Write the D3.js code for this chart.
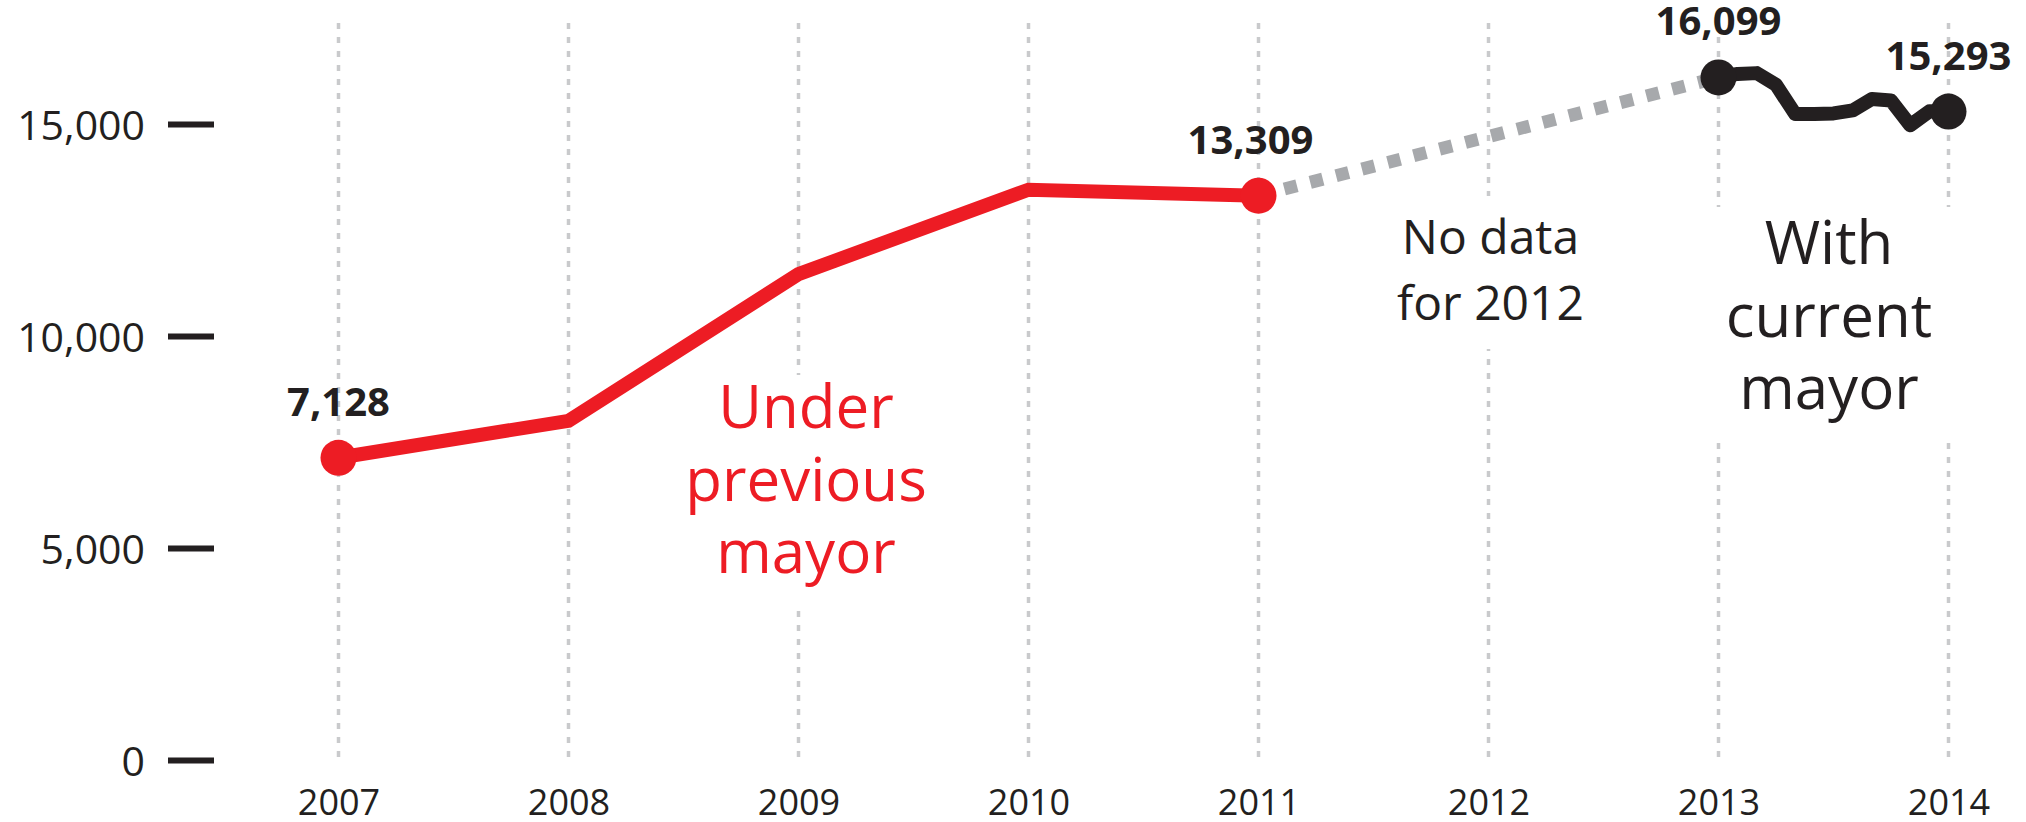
<!DOCTYPE html>
<html><head><meta charset="utf-8">
<script src="https://cdn.jsdelivr.net/npm/d3@7"></script>
<style>
body{margin:0;background:#fff}
svg{display:block}
text{font-family:"Open Sans",sans-serif}
</style>
</head><body>
<svg id="c" width="2026" height="822"></svg>
<script>
// ---- data ----
const years = [2007, 2008, 2009, 2010, 2011, 2012, 2013, 2014];
const yTicks = [0, 5000, 10000, 15000];

const prevYears = [2007, 2008, 2009, 2010, 2011];
const prevValues = [7128, 8000, 11460, 13450, 13309];

const gapYears = [2011, 2013];
const gapValues = [13309, 16099];

// monthly readings from Jan 2013 to Jan 2014
const curMonths = [0, 1, 2, 3, 4, 5, 6, 7, 8, 9, 10, 11, 12];
const curValues = [16099, 16180, 16200, 15925, 15235, 15235, 15250, 15320, 15590, 15555, 14970, 15300, 15293];

const labelYears = [2007, 2011, 2013, 2014];
const labelValues = [7128, 13309, 16099, 15293];

const notePrev = ["Under", "previous", "mayor"];
const noteGap = ["No data", "for 2012"];
const noteCur = ["With", "current", "mayor"];

// ---- setup ----
const RED = "#ed1c24", INK = "#231f20", GREY = "#a7a9ac", GRID = "#c9cacc";
const svg = d3.select("#c");
svg.append("rect").attr("width", 2026).attr("height", 822).attr("fill", "#fff");

const x = d3.scaleLinear().domain([2007, 2014]).range([338.5, 1948.5]);
const y = d3.scaleLinear().domain([0, 15000]).range([760, 124]);

// gridlines
svg.append("g").selectAll("line").data(years).join("line")
  .attr("x1", d => x(d)).attr("x2", d => x(d))
  .attr("y1", 23).attr("y2", 762)
  .attr("stroke", GRID).attr("stroke-width", 3.5)
  .attr("stroke-dasharray", "6,8");

// white knock-outs behind the annotation blocks
const knock = [
  {x0: 676, x1: 936, y0: 375, y1: 607},
  {x0: 1380, x1: 1600, y0: 196, y1: 349},
  {x0: 1690, x1: 1975, y0: 207, y1: 439}
];
svg.append("g").selectAll("rect").data(knock).join("rect")
  .attr("x", d => d.x0).attr("y", d => d.y0)
  .attr("width", d => d.x1 - d.x0).attr("height", d => d.y1 - d.y0)
  .attr("fill", "#fff");

// y axis
const yAxis = svg.append("g").attr("transform", "translate(214,0)")
  .call(d3.axisLeft(y).tickValues(yTicks).tickFormat(d3.format(",")).tickSize(46).tickPadding(23));
yAxis.select(".domain").remove();
yAxis.selectAll(".tick line").attr("stroke", INK).attr("stroke-width", 6);
yAxis.selectAll(".tick text").attr("fill", INK).attr("font-size", 41)
  .attr("font-family", "'Open Sans',sans-serif").attr("dy", "0.37em");

// x axis
const xAxis = svg.append("g").attr("transform", "translate(0,762)")
  .call(d3.axisBottom(x).tickValues(years).tickFormat(d3.format("d")).tickSize(0).tickPadding(27));
xAxis.select(".domain").remove();
xAxis.selectAll(".tick text").attr("fill", INK).attr("font-size", 36)
  .attr("font-family", "'Open Sans',sans-serif");

// lines
const prevData = prevYears.map((d, i) => [d, prevValues[i]]);
const gapData = gapYears.map((d, i) => [d, gapValues[i]]);
const curData = curMonths.map((m, i) => [2013 + m / 12, curValues[i]]);
const line = d3.line().x(d => x(d[0])).y(d => y(d[1]));

svg.append("path").datum(gapData).attr("d", line)
  .attr("fill", "none").attr("stroke", GREY).attr("stroke-width", 13)
  .attr("stroke-dasharray", "13,13.7");

svg.append("path").datum(prevData).attr("d", line)
  .attr("fill", "none").attr("stroke", RED).attr("stroke-width", 14)
  .attr("stroke-linejoin", "miter");

svg.append("path").datum(curData).attr("d", line)
  .attr("fill", "none").attr("stroke", INK).attr("stroke-width", 14)
  .attr("stroke-linejoin", "round");

// dots
const dotData = labelYears.map((d, i) => ({year: d, v: labelValues[i]}));
svg.append("g").selectAll("circle").data(dotData).join("circle")
  .attr("cx", d => x(d.year)).attr("cy", d => y(d.v)).attr("r", 18)
  .attr("fill", d => d.year <= 2011 ? RED : INK);

// value labels
svg.append("g").selectAll("text").data(dotData).join("text")
  .attr("x", d => x(d.year) + (d.year === 2011 ? -8 : 0)).attr("y", d => y(d.v) - 42)
  .attr("text-anchor", "middle").attr("font-size", 40).attr("font-weight", 700)
  .attr("fill", INK).text(d => d3.format(",")(d.v));

// annotations
function block(lines, cx, base, lh, size, color) {
  const t = svg.append("text").attr("text-anchor", "middle").attr("font-size", size).attr("fill", color);
  lines.forEach((s, i) => t.append("tspan").attr("x", cx).attr("y", base + i * lh).text(s));
}
block(notePrev, 806, 428, 72.5, 60, RED);
block(noteGap, 1490.5, 254, 66, 48, INK);
block(noteCur, 1829, 264, 72.5, 60, INK);
</script>
</body></html>
